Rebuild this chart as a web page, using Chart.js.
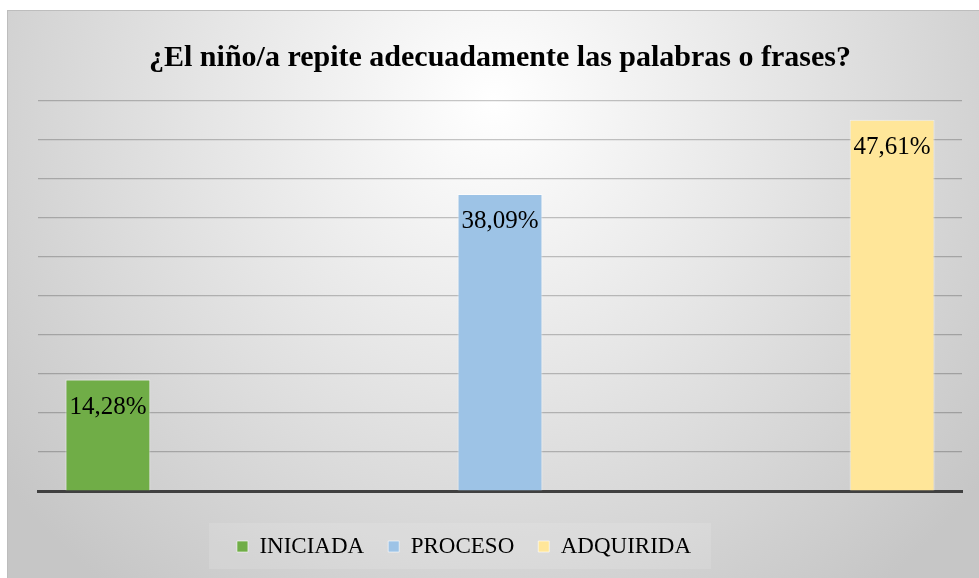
<!DOCTYPE html>
<html>
<head>
<meta charset="utf-8">
<script src="https://cdn.jsdelivr.net/npm/chart.js@4"></script>
<style>
    html, body { margin: 0; padding: 0; background: #fff; }
    #wrap {
        position: absolute; left: 7px; top: 10px;
        width: 972px; height: 568px;
        border-top: 1px solid #bdbdbd; border-left: 1px solid #bdbdbd;
        box-sizing: border-box;
    }
</style>
</head>
<body>
<div id="wrap"><canvas id="myChart"></canvas></div>
<script>
// Data
const titulo = '¿El niño/a repite adecuadamente las palabras o frases?';
const categorias = ['INICIADA', 'PROCESO', 'ADQUIRIDA'];
const porcentajes = [14.28, 38.09, 47.61];
const ejeMax = 50;
const ejePaso = 5;

const COLORES = ['#70AD47', '#9DC3E6', '#FFE699'];
const FUENTE = "'Liberation Serif', 'Times New Roman', serif";

// one dataset per category, all on a single x slot (like the Excel series chart)
const datasets = categorias.map((cat, i) => ({
    label: cat,
    data: [porcentajes[i]],
    backgroundColor: COLORES[i],
    borderColor: 'rgba(255,255,255,0.6)',
    borderWidth: 1,
    categoryPercentage: 1.273,
    barPercentage: 0.2166,
}));

// Plugins
const fondo = {
    id: 'fondo',
    beforeDraw(chart) {
        const ctx = chart.ctx;
        const w = chart.width, h = chart.height;
        ctx.save();
        const g = ctx.createRadialGradient(w / 2, 90, 0, w / 2, 90, 620);
        g.addColorStop(0, '#ffffff');
        g.addColorStop(0.45, '#e6e6e6');
        g.addColorStop(1, '#c6c6c6');
        ctx.fillStyle = g;
        ctx.fillRect(0, 0, w, h);
        // lighter legend panel
        const lg = chart.legend;
        if (lg && lg.legendHitBoxes.length) {
            const hb = lg.legendHitBoxes;
            const x0 = hb[0].left - 28;
            const last = hb[hb.length - 1];
            const x1 = last.left + last.width + 20;
            ctx.fillStyle = 'rgba(255,255,255,0.12)';
            ctx.fillRect(x0, 512, x1 - x0, 46);
        }
        ctx.restore();
    }
};

const moverLeyenda = {
    id: 'moverLeyenda',
    afterLayout(chart) {
        const lg = chart.legend;
        lg.left -= 36;
        lg.right -= 36;
    }
};

const etiquetas = {
    id: 'etiquetas',
    afterDatasetsDraw(chart) {
        const ctx = chart.ctx;
        ctx.save();
        ctx.font = '25px ' + FUENTE;
        ctx.fillStyle = '#000';
        ctx.textAlign = 'center';
        ctx.textBaseline = 'middle';
        chart.data.datasets.forEach((ds, i) => {
            const bar = chart.getDatasetMeta(i).data[0];
            const txt = ds.data[0].toFixed(2).replace('.', ',') + '%';
            ctx.fillText(txt, bar.x, bar.y + 28);
        });
        ctx.restore();
    }
};

const config = {
    type: 'bar',
    data: {
        labels: [''],
        datasets: datasets,
    },
    options: {
        responsive: true,
        maintainAspectRatio: false,
        animation: false,
        layout: { padding: { left: 30, right: 17, top: 0, bottom: 10 } },
        plugins: {
            title: {
                display: true,
                text: titulo,
                color: '#000',
                font: { family: FUENTE, size: 30, weight: 'bold' },
                padding: { top: 29, bottom: 25 },
            },
            legend: {
                position: 'bottom',
                labels: {
                    color: '#000',
                    font: { family: FUENTE, size: 23 },
                    boxWidth: 11,
                    boxHeight: 11,
                    padding: 24,
                },
            },
            tooltip: { enabled: false },
        },
        scales: {
            x: {
                grid: { display: false },
                ticks: { display: false },
                border: { color: '#404040', width: 3 },
                afterFit(scale) { scale.height = 20; },
            },
            y: {
                min: 0,
                max: ejeMax,
                ticks: { display: false, stepSize: ejePaso },
                grid: { color: 'rgba(0,0,0,0.22)', lineWidth: 1.2, drawTicks: false },
                border: { display: false },
                afterFit(scale) { scale.width = 0; },
            },
        },
    },
    plugins: [fondo, moverLeyenda, etiquetas],
};

const myChart = new Chart(document.getElementById('myChart'), config);
</script>
</body>
</html>
